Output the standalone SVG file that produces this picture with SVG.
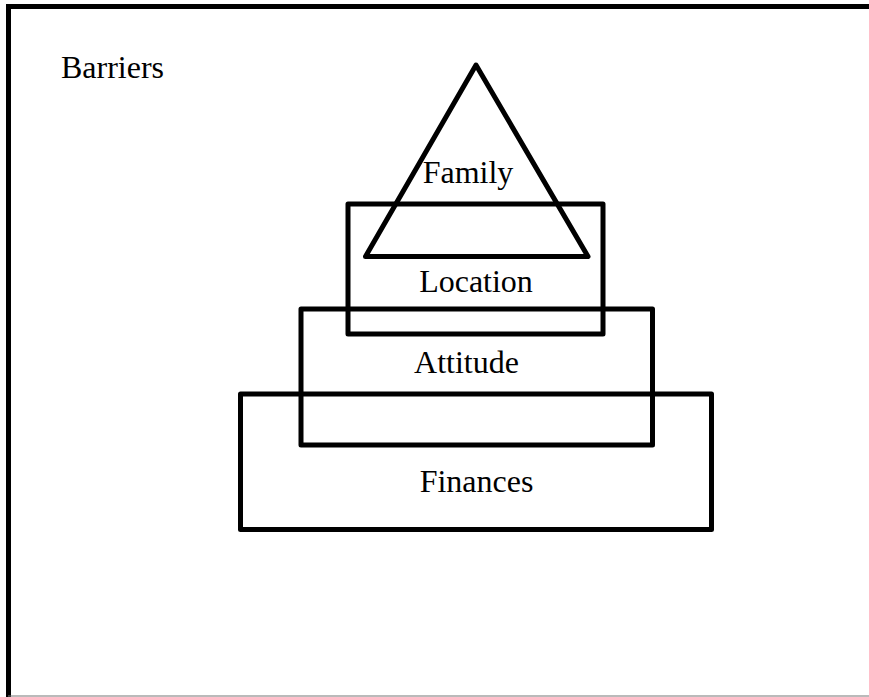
<svg xmlns="http://www.w3.org/2000/svg" width="869" height="697" viewBox="0 0 869 697">
  <style>
    .shape { fill: none; stroke: #000; stroke-width: 5; stroke-linejoin: round; }
    .label { font-family: "Liberation Serif", "Times New Roman", serif; font-size: 32px; fill: #000; }
    .mid { text-anchor: middle; }
  </style>
  <rect x="0" y="0" width="869" height="697" fill="#fff"/>
  <!-- outer frame -->
  <g id="frame">
    <line x1="8.5" y1="6.5" x2="869" y2="6.5" stroke="#000" stroke-width="5"/>
    <line x1="8.5" y1="4" x2="8.5" y2="697" stroke="#000" stroke-width="5"/>
    <line x1="8" y1="696" x2="869" y2="696" stroke="#777" stroke-width="1.2"/>
  </g>
  <g id="title">
    <text class="label" x="61" y="78">Barriers</text>
  </g>
  <!-- barrier layers, bottom to top -->
  <g id="finances">
    <rect class="shape" x="240.5" y="394" width="471" height="135.5"/>
    <text class="label mid" x="476.5" y="491.7">Finances</text>
  </g>
  <g id="attitude">
    <rect class="shape" x="301" y="309" width="351.5" height="136"/>
    <text class="label mid" x="466.5" y="373.3">Attitude</text>
  </g>
  <g id="location">
    <rect class="shape" x="348" y="204" width="255" height="130"/>
    <text class="label mid" x="476" y="291.7">Location</text>
  </g>
  <g id="family">
    <polygon class="shape" points="476,65 588,256.5 365.5,256.5"/>
    <text class="label mid" x="468" y="182.7">Family</text>
  </g>
  <g id="connectors"/>
</svg>
